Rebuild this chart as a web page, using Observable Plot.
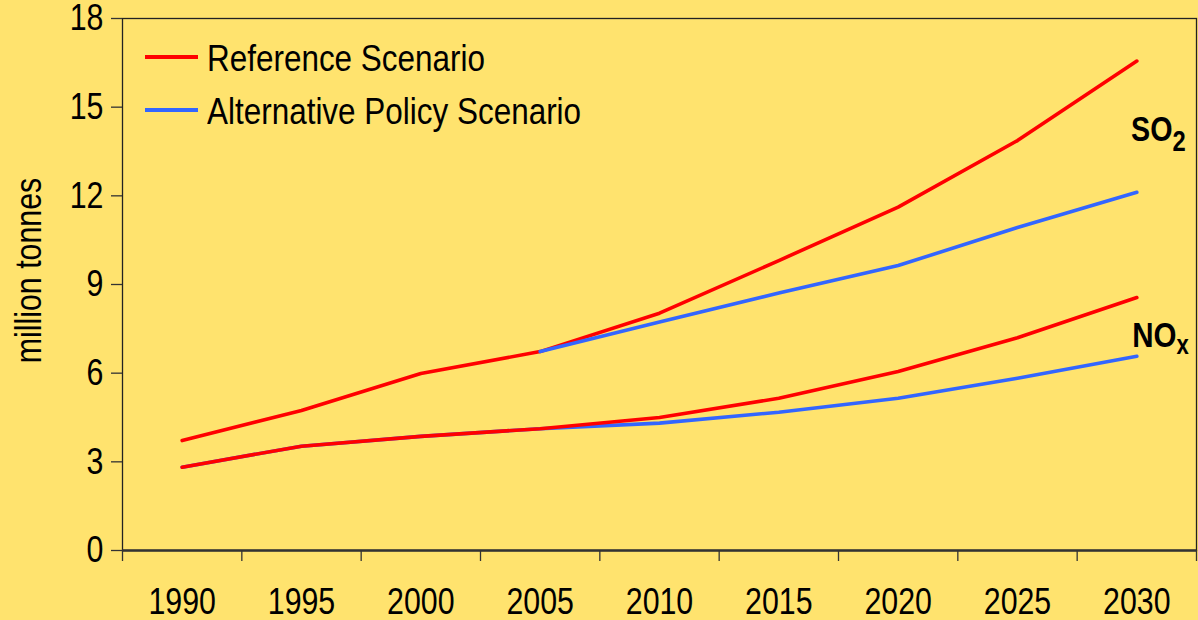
<!DOCTYPE html>
<html>
<head>
<meta charset="utf-8">
<script src="https://cdn.jsdelivr.net/npm/d3@7"></script>
<script src="https://cdn.jsdelivr.net/npm/@observablehq/plot@0.6"></script>
<style>
  html, body { margin: 0; padding: 0; background: #FFE36E; }
  #wrap { position: relative; width: 1198px; height: 620px; overflow: hidden; }
  .lg { position: absolute; font-family: "Liberation Sans Narrow", "Arial Narrow", "Liberation Sans", sans-serif; font-size: 37px; line-height: 37px; color: #000; white-space: nowrap; transform: scaleX(0.85); transform-origin: left center; }
  .sw { position: absolute; width: 53px; height: 4px; }
</style>
</head>
<body>
<div id="wrap"></div>
<script>
const years = [1990, 1995, 2000, 2005, 2010, 2015, 2020, 2025, 2030];
const so2Reference = [3.72, 4.74, 5.99, 6.73, 8.03, 9.81, 11.62, 13.87, 16.56];
const so2Alternative = [null, null, null, 6.73, 7.73, 8.71, 9.64, 10.93, 12.12];
const noxReference = [2.82, 3.53, 3.86, 4.12, 4.5, 5.15, 6.06, 7.2, 8.56];
const noxAlternative = [2.82, 3.53, 3.86, 4.12, 4.31, 4.68, 5.15, 5.83, 6.57];
const yTicks = [0, 3, 6, 9, 12, 15, 18];
const seriesNames = ["Reference Scenario", "Alternative Policy Scenario"];
const colors = ["#FF0000", "#3366FF"];

const step = years[1] - years[0];
const boundaries = years.map(y => y - step / 2).concat([years[years.length - 1] + step / 2]);

function rows(values) {
  return years.map((year, i) => ({year, value: values[i]})).filter(d => d.value != null);
}

const font = '"Liberation Sans Narrow", "Arial Narrow", "Liberation Sans", sans-serif';
const narrow = 0.82;

const chart = Plot.plot({
  width: 1198,
  height: 620,
  marginLeft: 122,
  marginRight: 2,
  marginTop: 18,
  marginBottom: 70,
  style: {background: "#FFE36E", fontFamily: font, color: "#000", overflow: "visible"},
  x: {domain: [boundaries[0], boundaries[boundaries.length - 1]], label: null},
  y: {domain: [0, 18], label: null},
  marks: [
    Plot.frame({stroke: "#222", strokeWidth: 1.3}),
    Plot.ruleY([0], {stroke: "#333", strokeWidth: 2.4}),
    Plot.axisY({ticks: yTicks, tickSize: 11, tickPadding: 8, fontSize: 37, stroke: "#333", strokeWidth: 1.3, label: null}),
    Plot.axisX({ticks: boundaries, tickSize: 11, tickFormat: () => "", stroke: "#333", strokeWidth: 1.3, label: null}),
    Plot.axisX({ticks: years, tickSize: 0, tickPadding: 37, fontSize: 37, tickFormat: d => String(d), label: null}),
    Plot.text(["million tonnes"], {frameAnchor: "left", textAnchor: "middle", rotate: -90, dx: -93, dy: -14, fontSize: 37, fill: "#000"}),
    Plot.line(rows(noxAlternative), {x: "year", y: "value", stroke: colors[1], strokeWidth: 3.6}),
    Plot.line(rows(noxReference), {x: "year", y: "value", stroke: colors[0], strokeWidth: 3.6}),
    Plot.line(rows(so2Reference), {x: "year", y: "value", stroke: colors[0], strokeWidth: 3.6}),
    Plot.line(rows(so2Alternative), {x: "year", y: "value", stroke: colors[1], strokeWidth: 3.6}),
    Plot.text(["SO"], {frameAnchor: "top-right", textAnchor: "end", lineAnchor: "bottom", dx: -24, dy: 122, fontSize: 35, fontWeight: "bold", fill: "#000"}),
    Plot.text(["2"], {frameAnchor: "top-right", textAnchor: "start", lineAnchor: "bottom", dx: -24, dy: 132, fontSize: 29, fontWeight: "bold", fill: "#000"}),
    Plot.text(["NO"], {frameAnchor: "top-right", textAnchor: "end", lineAnchor: "bottom", dx: -20, dy: 328, fontSize: 36, fontWeight: "bold", fill: "#000"}),
    Plot.text(["x"], {frameAnchor: "top-right", textAnchor: "start", lineAnchor: "bottom", dx: -20, dy: 335, fontSize: 27, fontWeight: "bold", fill: "#000"})
  ]
});

// emulate a narrow (condensed) typeface: compress each text along its own writing direction
chart.querySelectorAll("text").forEach(t => {
  const x = parseFloat(t.getAttribute("x") || 0);
  const y = parseFloat(t.getAttribute("y") || 0);
  const tr = t.getAttribute("transform") || "";
  t.setAttribute("transform", `${tr} translate(${x},${y}) scale(${narrow},1) translate(${-x},${-y})`.trim());
});

const wrap = document.getElementById("wrap");
wrap.appendChild(chart);

// legend overlay
const legendTops = [55, 108];
seriesNames.forEach((name, i) => {
  const sw = document.createElement("div");
  sw.className = "sw";
  sw.style.left = "145px";
  sw.style.top = legendTops[i] + "px";
  sw.style.background = colors[i];
  wrap.appendChild(sw);
  const t = document.createElement("div");
  t.className = "lg";
  t.style.left = "207px";
  t.style.top = (legendTops[i] - 15) + "px";
  t.textContent = name;
  wrap.appendChild(t);
});
</script>
</body>
</html>
